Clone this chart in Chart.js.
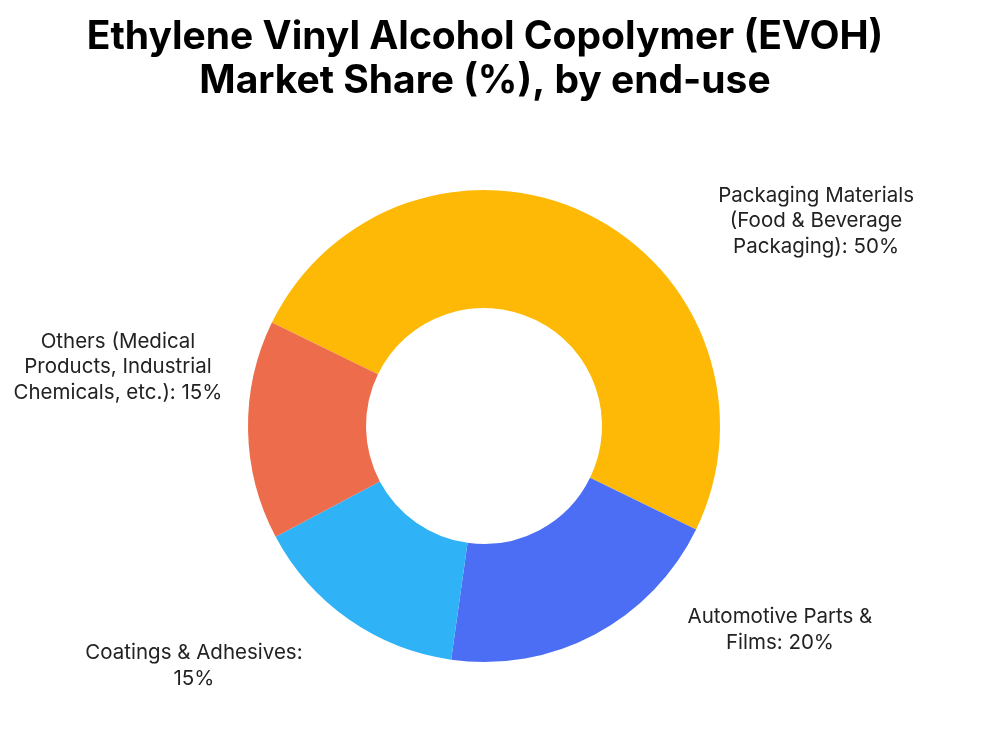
<!DOCTYPE html>
<html><head><meta charset="utf-8">
<script src="https://cdn.jsdelivr.net/npm/chart.js@4/dist/chart.umd.min.js"></script>
<style>html,body{margin:0;padding:0;background:#fff}#w{width:984px;height:742px}</style>
</head><body><div id="w"><canvas id="c"></canvas></div>
<script>
const titleLines = ["Ethylene Vinyl Alcohol Copolymer (EVOH)", "Market Share (%), by end-use"];
const categories = ["Packaging Materials (Food & Beverage Packaging)", "Automotive Parts & Films", "Coatings & Adhesives", "Others (Medical Products, Industrial Chemicals, etc.)"];
const shares = [50, 20, 15, 15];
const labelLines = [
  ["Packaging Materials", "(Food & Beverage", "Packaging): 50%"],
  ["Automotive Parts &", "Films: 20%"],
  ["Coatings & Adhesives:", "15%"],
  ["Others (Medical", "Products, Industrial", "Chemicals, etc.): 15%"]
];
const colors = ["#FDB905", "#4C6EF5", "#2FB3F6", "#EC6C4C"];
// label centers relative to chart center (in units of outer radius)
const labelOffsets = [[1.407, -0.869], [1.254, 0.864], [-1.229, 1.017], [-1.551, -0.25]];

const labelPlugin = {
  id: 'labels',
  afterDraw(chart) {
    const ctx = chart.ctx;
    const arc = chart.getDatasetMeta(0).data[0];
    const cx = arc.x, cy = arc.y, r = arc.outerRadius;
    ctx.save();
    ctx.fillStyle = '#000';
    ctx.textAlign = 'center';
    ctx.textBaseline = 'middle';
    ctx.font = 'bold 39px Inter';
    titleLines.forEach((t, i) => ctx.fillText(t, 485, 37 + i * 44));
    ctx.fillStyle = '#222';
    ctx.font = '20.5px Inter';
    labelLines.forEach((lines, i) => {
      const x = cx + labelOffsets[i][0] * r, y = cy + labelOffsets[i][1] * r;
      const n = lines.length;
      lines.forEach((l, j) => ctx.fillText(l, x, y + (j - (n - 1) / 2) * 25.5));
    });
    ctx.restore();
  }
};

new Chart(document.getElementById('c'), {
  type: 'doughnut',
  data: { labels: categories, datasets: [{ data: shares, backgroundColor: colors, borderWidth: 0 }] },
  options: {
    responsive: true, maintainAspectRatio: false, animation: false,
    rotation: -64, cutout: '50%',
    layout: { padding: { top: 190, bottom: 80, left: 248, right: 264 } },
    plugins: { legend: { display: false }, tooltip: { enabled: false }, title: { display: false } }
  },
  plugins: [labelPlugin]
});
</script></body></html>
